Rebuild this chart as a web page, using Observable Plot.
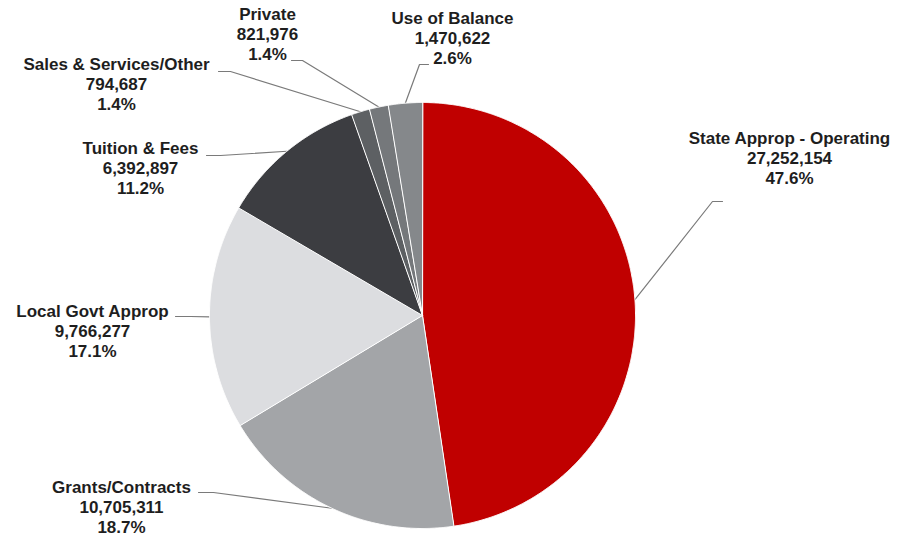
<!DOCTYPE html>
<html><head><meta charset="utf-8">
<script src="https://cdn.jsdelivr.net/npm/d3@7"></script>
<script src="https://cdn.jsdelivr.net/npm/@observablehq/plot@0.6"></script>
<style>body{margin:0;background:#fff}#chart svg{display:block}</style>
</head><body><div id="chart"></div>
<script>
// ---- data ----
const categories = ["State Approp - Operating", "Grants/Contracts", "Local Govt Approp", "Tuition & Fees", "Sales & Services/Other", "Private", "Use of Balance"];
const values = [27252154, 10705311, 9766277, 6392897, 794687, 821976, 1470622];
const colors = ["#c00000", "#a3a5a8", "#dcdde0", "#3c3d41", "#5d6063", "#75787b", "#85888b"];

// ---- layout (pixel units) ----
const W = 899, H = 536;
const cx = 422, cy = 315, R = 213;
const labelX = [789, 121, 92, 140, 116, 267, 452];
const labelY = [157, 506, 330, 167, 83, 33, 37];
const elbowX = [712, 213, 190, 220, 230, 302, 419];
const elbowY = [201, 492, 316, 155, 71, 60, 64];
const endX   = [722, 198, 175, 206, 218, 291, 428];

const total = d3.sum(values);
const arcs = d3.pie().sort(null).value(d => d)(values);

const slicePts = [];
arcs.forEach((a, i) => {
  slicePts.push({k: i, x: cx, y: cy, c: colors[i]});
  const n = Math.max(2, Math.ceil((a.endAngle - a.startAngle) / 0.005));
  for (let j = 0; j <= n; j++) {
    const t = a.startAngle + (a.endAngle - a.startAngle) * j / n;
    slicePts.push({k: i, x: cx + R * Math.sin(t), y: cy - R * Math.cos(t), c: colors[i]});
  }
});

const leaderPts = [];
arcs.forEach((a, i) => {
  const m = (a.startAngle + a.endAngle) / 2;
  leaderPts.push({k: i, x: cx + R * Math.sin(m), y: cy - R * Math.cos(m)});
  leaderPts.push({k: i, x: elbowX[i], y: elbowY[i]});
  leaderPts.push({k: i, x: endX[i], y: elbowY[i]});
});

const labels = categories.map((name, i) => ({
  x: labelX[i], y: labelY[i],
  text: `${name}\n${d3.format(",")(values[i])}\n${d3.format(".1%")(values[i] / total)}`
}));

const chart = Plot.plot({
  width: W, height: H,
  margin: 0,
  x: {domain: [0, W], range: [0, W], axis: null},
  y: {domain: [0, H], range: [0, H], axis: null},
  color: {type: "identity"},
  style: {background: "#fff"},
  marks: [
    Plot.line(leaderPts, {x: "x", y: "y", z: "k", stroke: "#7a7a7a", strokeWidth: 1.2, curve: "linear"}),
    Plot.line(slicePts, {x: "x", y: "y", z: "k", fill: "c", stroke: "#ffffff", strokeWidth: 1, curve: "linear-closed", strokeLinejoin: "round"}),
    Plot.text(labels, {x: "x", y: "y", text: "text", lineAnchor: "middle", textAnchor: "middle",
      fontSize: 17, fontWeight: "bold", lineHeight: 1.2, fill: "#1e1e1e",
      fontFamily: "'Liberation Sans', Arial, sans-serif"})
  ]
});
document.getElementById("chart").appendChild(chart);
</script>
</body></html>
